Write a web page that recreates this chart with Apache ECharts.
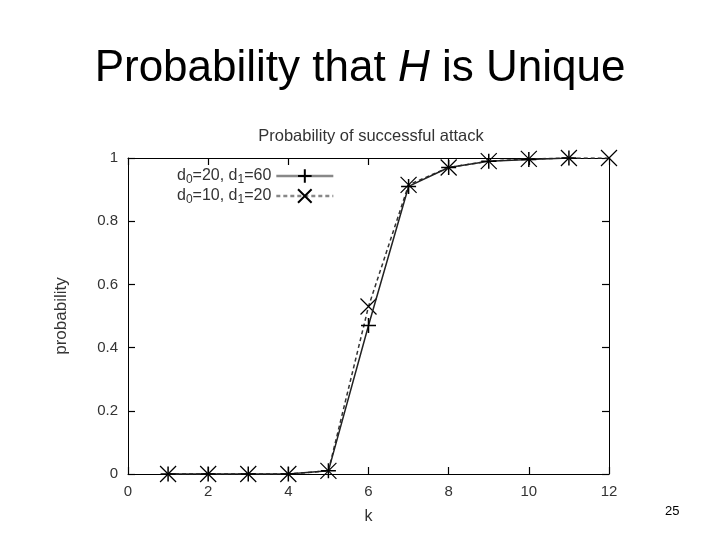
<!DOCTYPE html>
<html>
<head>
<meta charset="utf-8">
<script src="https://cdn.jsdelivr.net/npm/echarts@6/dist/echarts.min.js"></script>
<style>
  html, body { margin: 0; padding: 0; background: #fff; }
  #chart { width: 720px; height: 540px; }
</style>
</head>
<body>
<div id="chart"></div>
<script>
// values
var kSolid = [1, 2, 3, 4, 5, 6, 7, 8, 9, 10, 11]
var pSolid = [0, 0, 0, 0, 0.01, 0.47, 0.91, 0.97, 0.99, 0.995, 1.0]
var kDashed = [1, 2, 3, 4, 5, 6, 7, 8, 9, 10, 11, 12]
var pDashed = [0, 0, 0, 0, 0.01, 0.53, 0.915, 0.97, 0.99, 0.997, 1.0, 1.0]
var yTicks = [0, 0.2, 0.4, 0.6, 0.8, 1]

var plusSymbol = 'path://M0,-10L0,10M-10,0L10,0'
var crossSymbol = 'path://M-10,-10L10,10M-10,10L10,-10'
var font = 'Liberation Sans, Arial, sans-serif'

function zip (xs, ys) {
  return xs.map(function (x, i) { return [x, ys[i]] })
}

function inwardTick () {
  return { show: true, inside: true, length: 7, lineStyle: { color: '#000', width: 1.2 } }
}
// extra axes that close the frame (top and right), ticks pointing inwards
function frameAxis (position, max, interval) {
  return {
    type: 'value',
    position: position,
    min: 0,
    max: max,
    interval: interval,
    axisLine: { show: true, onZero: false, lineStyle: { color: '#000', width: 1 } },
    axisTick: inwardTick(),
    axisLabel: { show: false },
    splitLine: { show: false }
  }
}

var option = {
  backgroundColor: '#fff',
  animation: false,
  title: [
    {
      text: '{n|Probability that }{i|H}{n| is Unique}',
      left: 'center',
      top: 42,
      textStyle: {
        fontWeight: 'normal',
        rich: {
          n: { fontFamily: font, fontSize: 44, fontWeight: 'normal', color: '#000' },
          i: { fontFamily: font, fontSize: 44, fontWeight: 'normal', color: '#000', fontStyle: 'italic' }
        }
      }
    },
    {
      text: 'Probability of successful attack',
      left: 366,
      textAlign: 'center',
      top: 123,
      textStyle: { fontFamily: font, fontSize: 16.5, fontWeight: 'normal', color: '#333' }
    },
    {
      text: '25',
      left: 660,
      top: 500,
      textStyle: { fontFamily: font, fontSize: 13, fontWeight: 'normal', color: '#000' }
    }
  ],
  legend: {
    orient: 'vertical',
    left: 172,
    top: 163,
    align: 'right',
    itemWidth: 57,
    itemHeight: 17,
    itemGap: 2,
    data: [
      { name: 's1', lineStyle: { color: '#888', width: 2.5 } },
      { name: 's2', lineStyle: { color: '#888', width: 2.5 } }
    ],
    formatter: function (name) {
      return name === 's1' ? '{t|d}{s|0}{t|=20, d}{s|1}{t|=60}' : '{t|d}{s|0}{t|=10, d}{s|1}{t|=20}'
    },
    textStyle: {
      rich: {
        t: { fontFamily: font, fontSize: 16, color: '#333' },
        s: { fontFamily: font, fontSize: 12, color: '#333', verticalAlign: 'bottom', padding: [8, 0, 0, 0] }
      }
    }
  },
  grid: { left: 128, right: 111, top: 158, bottom: 66 },
  xAxis: [
    {
      type: 'value',
      min: 0,
      max: 12,
      interval: 2,
      name: 'k',
      nameLocation: 'middle',
      nameGap: 35,
      nameTextStyle: { fontFamily: font, fontSize: 16, color: '#333' },
      axisLine: { show: true, lineStyle: { color: '#000', width: 1 } },
      axisTick: inwardTick(),
      axisLabel: { fontFamily: font, fontSize: 15, color: '#333', margin: 10 },
      splitLine: { show: false }
    },
    frameAxis('top', 12, 2)
  ],
  yAxis: [
    {
      type: 'value',
      min: 0,
      max: 1,
      interval: 0.2,
      name: 'probability',
      nameLocation: 'middle',
      nameGap: 58,
      nameTextStyle: { fontFamily: font, fontSize: 17, color: '#333' },
      axisLine: { show: true, lineStyle: { color: '#000', width: 1 } },
      axisTick: inwardTick(),
      axisLabel: {
        fontFamily: font,
        fontSize: 15,
        color: '#333',
        margin: 10,
        formatter: function (v) { return yTicks.indexOf(+v.toFixed(1)) >= 0 ? String(+v.toFixed(1)) : '' }
      },
      splitLine: { show: false }
    },
    frameAxis('right', 1, 0.2)
  ],
  series: [
    {
      name: 's1',
      type: 'line',
      data: zip(kSolid, pSolid),
      symbol: plusSymbol,
      symbolSize: 15,
      showAllSymbol: true,
      lineStyle: { color: '#222', width: 1.5, type: 'solid' },
      itemStyle: { color: '#000', borderColor: '#000', borderWidth: 1.5 },
      z: 3
    },
    {
      name: 's2',
      type: 'line',
      data: zip(kDashed, pDashed),
      symbol: crossSymbol,
      symbolSize: 16,
      showAllSymbol: true,
      lineStyle: { color: '#333', width: 1.5, type: [4, 3] },
      itemStyle: { color: '#000', borderColor: '#000', borderWidth: 1.2 },
      z: 2
    }
  ]
}

var myChart = echarts.init(document.getElementById('chart'))
myChart.setOption(option)
</script>
</body>
</html>
